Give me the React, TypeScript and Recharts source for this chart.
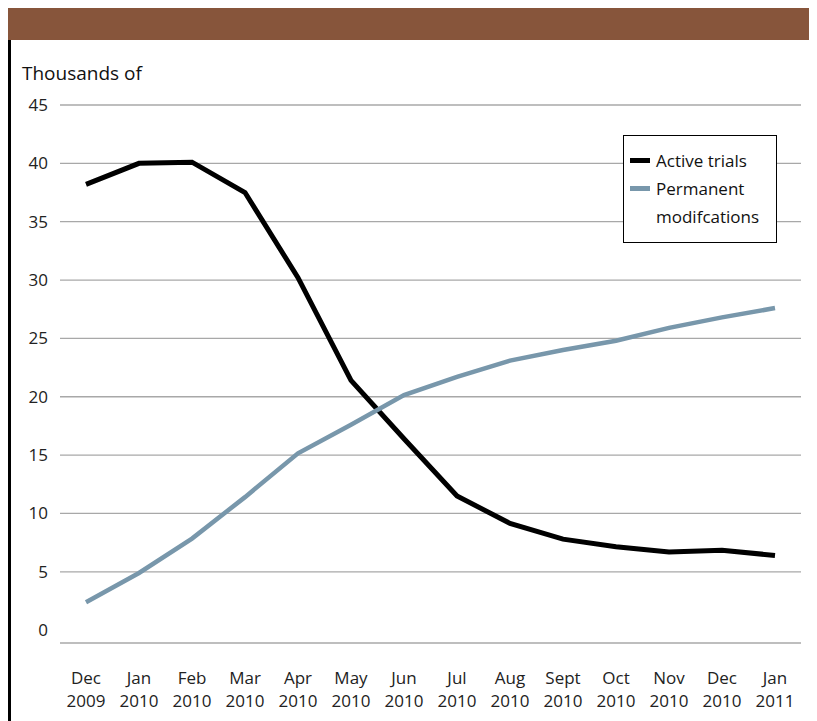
import React from 'react';
import { LineChart, Line, XAxis, YAxis, CartesianGrid, Legend } from 'recharts';

const months = ['Dec', 'Jan', 'Feb', 'Mar', 'Apr', 'May', 'Jun', 'Jul', 'Aug', 'Sept', 'Oct', 'Nov', 'Dec', 'Jan'];
const years = ['2009', '2010', '2010', '2010', '2010', '2010', '2010', '2010', '2010', '2010', '2010', '2010', '2010', '2011'];
const activeTrials = [38.2, 40.0, 40.1, 37.5, 30.2, 21.4, 16.4, 11.5, 9.15, 7.8, 7.15, 6.7, 6.85, 6.4];
const permanentMods = [2.4, 4.9, 7.85, 11.4, 15.15, 17.6, 20.15, 21.7, 23.1, 24.0, 24.8, 25.9, 26.8, 27.6];
const yTicks = [0, 5, 10, 15, 20, 25, 30, 35, 40, 45];
const gridValues = [5, 10, 15, 20, 25, 30, 35, 40, 45];

const data = months.map((m, i) => ({
  label: `${m} ${years[i]}`,
  active: activeTrials[i],
  permanent: permanentMods[i],
}));

const FONT = '"Open Sans", sans-serif';

function MonthTick(props: any) {
  const { x, y, payload } = props;
  const [m, yr] = String(payload.value).split(' ');
  return (
    <g>
      <text x={x} y={y + 41} textAnchor="middle" fontFamily={FONT} fontSize={17} fill="#222">{m}</text>
      <text x={x} y={y + 64} textAnchor="middle" fontFamily={FONT} fontSize={17} fill="#222">{yr}</text>
    </g>
  );
}

function LegendBox(props: any) {
  const items = props.payload || [];
  return (
    <div
      style={{
        width: 154,
        height: 108,
        boxSizing: 'border-box',
        border: '1.5px solid #000',
        background: '#fff',
        padding: '11px 0 0 6px',
        fontFamily: FONT,
        fontSize: 17,
        lineHeight: '28px',
        color: '#111',
      }}
    >
      {items.map((it: any) => (
        <div key={it.value} style={{ display: 'flex', alignItems: 'flex-start' }}>
          <span style={{ display: 'inline-block', width: 20, height: 5, background: it.color, marginTop: 11, marginRight: 6, flexShrink: 0 }} />
          <span style={{ width: 120 }}>{it.value}</span>
        </div>
      ))}
    </div>
  );
}

export default function App() {
  return (
    <div style={{ position: 'relative', width: 809, height: 713, background: '#fff', overflow: 'hidden' }}>
      <div style={{ position: 'absolute', left: 0, top: 16, width: 2.5, height: 697, background: '#000' }} />
      <div style={{ position: 'absolute', left: 0, top: 0, width: 809, height: 32, background: '#87553B' }} />
      <div style={{ position: 'absolute', left: 14, top: 52, fontFamily: FONT, fontSize: 19, color: '#111' }}>Thousands of</div>
      <LineChart
        width={809}
        height={713}
        data={data}
        margin={{ top: 97, right: 16, bottom: 18, left: 0 }}
        style={{ position: 'absolute', left: 0, top: 0 }}
      >
        <CartesianGrid horizontal vertical={false} horizontalValues={gridValues} stroke="#a8a8a8" strokeWidth={1.3} />
        <XAxis
          dataKey="label"
          interval={0}
          padding={{ left: 26, right: 26 }}
          height={60}
          tickLine={false}
          tickSize={0}
          tickMargin={0}
          axisLine={{ stroke: '#a8a8a8', strokeWidth: 1.3 }}
          tick={<MonthTick />}
        />
        <YAxis
          domain={[-1.1, 45]}
          ticks={yTicks}
          width={52}
          axisLine={false}
          tickLine={false}
          tickSize={0}
          tickMargin={12}
          tick={{ fontFamily: FONT, fontSize: 17, fill: '#222' }}
          allowDataOverflow
        />
        <Legend
          layout="vertical"
          align="center"
          verticalAlign="middle"
          wrapperStyle={{ left: 615, top: 127, width: 154, height: 108 }}
          content={<LegendBox />}
        />
        <Line type="linear" dataKey="active" name="Active trials" stroke="#000" strokeWidth={5} dot={false} isAnimationActive={false} />
        <Line type="linear" dataKey="permanent" name="Permanent modifcations" stroke="#7897AB" strokeWidth={4.5} dot={false} isAnimationActive={false} />
      </LineChart>
    </div>
  );
}
